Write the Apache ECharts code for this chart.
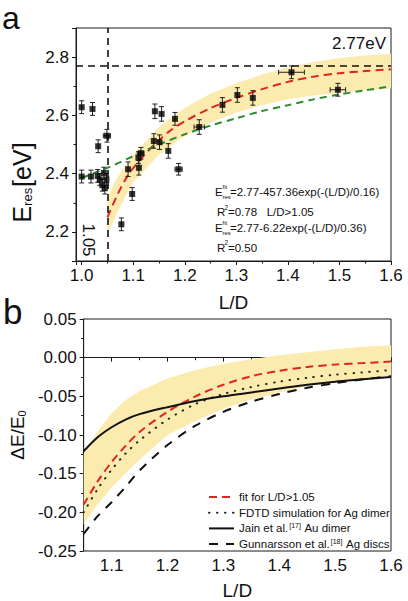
<!DOCTYPE html>
<html>
<head>
<meta charset="utf-8">
<script src="https://cdn.jsdelivr.net/npm/echarts@6/dist/echarts.min.js"></script>
<style>
html,body{margin:0;padding:0;background:#fff;}
#chart{width:408px;height:601px;}
</style>
</head>
<body>
<div id="chart"></div>
<script>
// ---------- Panel a : measured points [L/D, E_res, errY, errX] ----------
const pointsLD   = [1.000,1.000,1.021,1.018,1.032,1.031,1.035,1.040,1.043,1.045,1.048,1.049,1.077,1.090,1.098,1.110,1.115,1.111,1.142,1.155,1.140,1.151,1.168,1.181,1.188,1.228,1.273,1.302,1.332,1.407,1.497];
const pointsE    = [2.390,2.628,2.622,2.390,2.494,2.392,2.380,2.360,2.402,2.350,2.380,2.530,2.226,2.415,2.330,2.455,2.470,2.420,2.614,2.605,2.512,2.508,2.478,2.588,2.415,2.560,2.636,2.670,2.660,2.748,2.688];
const pointsErrY = [0.022,0.022,0.022,0.022,0.022,0.022,0.020,0.020,0.020,0.020,0.020,0.022,0.022,0.025,0.022,0.020,0.020,0.025,0.025,0.025,0.025,0.025,0.025,0.022,0.020,0.025,0.025,0.025,0.025,0.022,0.022];
const pointsErrX = [0,0,0,0,0,0,0,0,0,0,0,0.007,0,0,0,0,0.006,0,0,0,0,0,0,0,0.007,0.010,0,0,0,0.025,0.015];

// fit curves panel a
const fitRedA   = [[1.05,2.25],[1.07,2.33],[1.09,2.395],[1.11,2.44],[1.13,2.48],[1.15,2.515],[1.17,2.545],[1.2,2.58],[1.25,2.625],[1.3,2.66],[1.35,2.69],[1.4,2.715],[1.45,2.733],[1.5,2.745],[1.55,2.752],[1.6,2.758]];
const fitGreenA = [[1.0,2.385],[1.05,2.42],[1.1,2.46],[1.15,2.50],[1.2,2.535],[1.25,2.565],[1.3,2.59],[1.35,2.615],[1.4,2.635],[1.45,2.655],[1.5,2.672],[1.55,2.686],[1.6,2.70]];
const bandUpperA = [[1.05,2.32],[1.07,2.39],[1.1,2.465],[1.15,2.56],[1.2,2.625],[1.25,2.675],[1.3,2.71],[1.35,2.74],[1.4,2.765],[1.45,2.783],[1.5,2.797],[1.55,2.806],[1.6,2.812]];
const bandLowerA = [[1.05,2.19],[1.07,2.27],[1.1,2.37],[1.15,2.465],[1.2,2.53],[1.25,2.575],[1.3,2.61],[1.35,2.635],[1.4,2.655],[1.45,2.668],[1.5,2.678],[1.55,2.686],[1.6,2.692]];
const refEnergy = 2.77;
const refLD = 1.05;

// ---------- Panel b ----------
const fitRedB   = [[1.05,-0.19],[1.075,-0.16],[1.1,-0.135],[1.125,-0.114],[1.15,-0.096],[1.2,-0.07],[1.25,-0.05],[1.3,-0.035],[1.35,-0.024],[1.4,-0.017],[1.45,-0.012],[1.5,-0.009],[1.55,-0.007],[1.6,-0.005]];
const fdtdB     = [[1.05,-0.2],[1.075,-0.17],[1.1,-0.145],[1.125,-0.124],[1.15,-0.107],[1.2,-0.08],[1.25,-0.06],[1.3,-0.047],[1.35,-0.038],[1.4,-0.031],[1.45,-0.026],[1.5,-0.022],[1.55,-0.019],[1.6,-0.016]];
const jainB     = [[1.05,-0.121],[1.075,-0.103],[1.1,-0.09],[1.125,-0.08],[1.15,-0.073],[1.2,-0.064],[1.25,-0.056],[1.3,-0.05],[1.35,-0.045],[1.4,-0.04],[1.45,-0.035],[1.5,-0.031],[1.55,-0.028],[1.6,-0.025]];
const gunnB     = [[1.05,-0.228],[1.075,-0.205],[1.1,-0.187],[1.125,-0.167],[1.15,-0.146],[1.2,-0.113],[1.25,-0.088],[1.3,-0.07],[1.35,-0.057],[1.4,-0.047],[1.45,-0.039],[1.5,-0.033],[1.55,-0.028],[1.6,-0.024]];
const bandUpperB = [[1.05,-0.125],[1.075,-0.095],[1.1,-0.072],[1.125,-0.055],[1.15,-0.043],[1.2,-0.027],[1.25,-0.016],[1.3,-0.008],[1.35,-0.002],[1.4,0.003],[1.45,0.007],[1.5,0.011],[1.55,0.014],[1.6,0.016]];
const bandLowerB = [[1.05,-0.215],[1.075,-0.19],[1.1,-0.168],[1.125,-0.149],[1.15,-0.132],[1.2,-0.1],[1.25,-0.082],[1.3,-0.066],[1.35,-0.054],[1.4,-0.045],[1.45,-0.037],[1.5,-0.032],[1.55,-0.028],[1.6,-0.025]];
const legendNames = ['fit for L/D>1.05','FDTD simulation for Ag dimer','Jain et al.[17] Au dimer','Gunnarsson et al.[18] Ag discs'];

const FONT = '"Liberation Sans", Arial, sans-serif';
const AX = '#1a1a1a';
const BAND = '#fcebae';

const chart = echarts.init(document.getElementById('chart'), null, {renderer:'svg'});

function bandSeries(idx, upper, lower){
  return {
    type:'custom', xAxisIndex:idx, yAxisIndex:idx, silent:true, z:1,
    data:[upper[0]],
    renderItem(params, api){
      const pts = upper.map(p=>api.coord(p)).concat(lower.slice().reverse().map(p=>api.coord(p)));
      return {type:'polygon', shape:{points:pts}, style:{fill:BAND}};
    }
  };
}

function xAxisCfg(gi, min, max, name, gap){
  return {
    type:'value', gridIndex:gi, min:min, max:max, splitNumber:6, minInterval:0.1, maxInterval:0.1,
    name:name, nameLocation:'middle', nameGap:gap,
    nameTextStyle:{fontFamily:FONT, fontSize:19, color:'#111'},
    axisLine:{lineStyle:{color:AX, width:1}},
    axisTick:{length:4, lineStyle:{color:AX}},
    minorTick:{show:true, splitNumber:2, length:2.5, lineStyle:{color:AX}},
    splitLine:{show:false},
    axisLabel:{showMinLabel:false, fontFamily:FONT, fontSize:17, color:'#111', margin:6,
      formatter:v=>v.toFixed(1)}
  };
}

const errData = pointsLD.map((x,i)=>[x, pointsE[i], pointsErrX[i], pointsErrY[i]]);
const scatterData = pointsLD.map((x,i)=>[x, pointsE[i]]);

const option = {
  animation:false,
  backgroundColor:'#fff',
  grid:[
    {left:76, right:17, top:28, height:233, show:true, borderColor:AX, borderWidth:1, backgroundColor:'transparent'},
    {left:76, right:17, top:319, height:232, show:true, borderColor:AX, borderWidth:1, backgroundColor:'transparent'}
  ],
  xAxis:[
    xAxisCfg(0, 0.989, 1.6, 'L/D', 32),
    xAxisCfg(1, 1.05, 1.6, 'L/D', 30)
  ],
  yAxis:[
    {
      type:'value', gridIndex:0, min:2.1, max:2.9, splitNumber:4, minInterval:0.2, maxInterval:0.2,
      name:'{e|E}{s|res}{e|[eV]}', nameLocation:'middle', nameRotate:90, nameGap:27,
      nameTextStyle:{fontFamily:FONT, color:'#111', padding:[0,76,0,0],
        rich:{e:{fontFamily:FONT, fontSize:25, color:'#111'}, s:{fontFamily:FONT, fontSize:13, color:'#111', verticalAlign:'bottom', padding:[0,1,0,0]}}},
      axisLine:{lineStyle:{color:AX}},
      axisTick:{length:4, lineStyle:{color:AX}},
      minorTick:{show:true, splitNumber:2, length:2.5, lineStyle:{color:AX}},
      splitLine:{show:false},
      axisLabel:{showMinLabel:false, showMaxLabel:false, fontFamily:FONT, fontSize:17, color:'#111', margin:7, formatter:v=>v.toFixed(1)}
    },
    {
      type:'value', gridIndex:1, min:-0.25, max:0.05, interval:0.05,
      name:'{e|ΔE/E}{s|0}', nameLocation:'middle', nameRotate:90, nameGap:50,
      nameTextStyle:{fontFamily:FONT, color:'#111',
        rich:{e:{fontFamily:FONT, fontSize:19, color:'#111'}, s:{fontFamily:FONT, fontSize:11, color:'#111', verticalAlign:'bottom'}}},
      axisLine:{lineStyle:{color:AX}},
      axisTick:{length:4, lineStyle:{color:AX}},
      minorTick:{show:true, splitNumber:2, length:2.5, lineStyle:{color:AX}},
      splitLine:{show:false},
      axisLabel:{fontFamily:FONT, fontSize:17, color:'#111', margin:7, formatter:v=>v.toFixed(2)}
    }
  ],
  legend:{
    data:legendNames, orient:'vertical', left:203, top:486, itemWidth:25, itemHeight:12, itemGap:3.7,
    itemStyle:{opacity:0},
    textStyle:{fontFamily:FONT, fontSize:11.5, color:'#111',
      rich:{sup:{fontFamily:FONT, fontSize:7, color:'#111', verticalAlign:'top', padding:[0,1,5,1]}}},
    formatter:n=>n.replace(/(\[\d+\])/, '{sup|$1}'),
    selectedMode:false
  },
  series:[
    bandSeries(0, bandUpperA, bandLowerA),
    {type:'line', name:'fitA_red', xAxisIndex:0, yAxisIndex:0, data:fitRedA, smooth:0.3, symbol:'none', z:3,
      lineStyle:{color:'#e02424', width:2, type:[8,5]}},
    {type:'line', name:'fitA_green', xAxisIndex:0, yAxisIndex:0, data:fitGreenA, smooth:0.3, symbol:'none', z:3,
      lineStyle:{color:'#2e8b2e', width:2, type:[7,5]}},
    {type:'line', name:'refs', xAxisIndex:0, yAxisIndex:0, data:[], symbol:'none', z:2,
      markLine:{silent:true, symbol:'none', label:{show:false},
        lineStyle:{color:'#111', width:1.6, type:[7,5]},
        data:[{yAxis:refEnergy},{xAxis:refLD}]}},
    {type:'custom', name:'errorbars', xAxisIndex:0, yAxisIndex:0, data:errData, z:4, silent:true,
      renderItem(params, api){
        const x=api.value(0), y=api.value(1), ex=api.value(2), ey=api.value(3);
        const st={stroke:'#222', lineWidth:1};
        const ch=[]; const cap=2.5;
        if(ey>0){
          const t=api.coord([x,y+ey]), b=api.coord([x,y-ey]);
          ch.push({type:'line', shape:{x1:t[0],y1:t[1],x2:b[0],y2:b[1]}, style:st});
          ch.push({type:'line', shape:{x1:t[0]-cap,y1:t[1],x2:t[0]+cap,y2:t[1]}, style:st});
          ch.push({type:'line', shape:{x1:b[0]-cap,y1:b[1],x2:b[0]+cap,y2:b[1]}, style:st});
        }
        if(ex>0){
          const l=api.coord([x-ex,y]), r=api.coord([x+ex,y]);
          ch.push({type:'line', shape:{x1:l[0],y1:l[1],x2:r[0],y2:r[1]}, style:st});
          ch.push({type:'line', shape:{x1:l[0],y1:l[1]-cap,x2:l[0],y2:l[1]+cap}, style:st});
          ch.push({type:'line', shape:{x1:r[0],y1:r[1]-cap,x2:r[0],y2:r[1]+cap}, style:st});
        }
        return {type:'group', children:ch};
      }},
    {type:'scatter', name:'data', xAxisIndex:0, yAxisIndex:0, data:scatterData, symbol:'rect', symbolSize:6, z:5,
      itemStyle:{color:'#000'}},
    bandSeries(1, bandUpperB, bandLowerB),
    {type:'line', name:legendNames[0], xAxisIndex:1, yAxisIndex:1, data:fitRedB, smooth:0.3, symbol:'none', z:3,
      itemStyle:{color:'#e02424'}, lineStyle:{color:'#e02424', width:2, type:[8,5]}},
    {type:'line', name:legendNames[1], xAxisIndex:1, yAxisIndex:1, data:fdtdB, smooth:0.3, symbol:'none', z:3,
      itemStyle:{color:'#222'}, lineStyle:{color:'#222', width:2, type:[0.5,7.5], cap:'round'}},
    {type:'line', name:legendNames[2], xAxisIndex:1, yAxisIndex:1, data:jainB, smooth:0.3, symbol:'none', z:3,
      itemStyle:{color:'#111'}, lineStyle:{color:'#111', width:2}},
    {type:'line', name:legendNames[3], xAxisIndex:1, yAxisIndex:1, data:gunnB, smooth:0.3, symbol:'none', z:3,
      itemStyle:{color:'#111'}, lineStyle:{color:'#111', width:2, type:[9,8]}}
  ],
  graphic:[
    {type:'text', left:2, top:2, style:{text:'a', font:'32px '+FONT, fill:'#111'}},
    {type:'text', left:3, top:294, style:{text:'b', font:'35px '+FONT, fill:'#111'}},
    {type:'text', x:386, y:43, style:{text:'2.77eV', font:'17px '+FONT, fill:'#111', align:'right', verticalAlign:'middle'}},
    {type:'text', x:88, y:240, rotation:-Math.PI/2, style:{text:'1.05', font:'17px '+FONT, fill:'#111', align:'center', verticalAlign:'middle'}},
    // fit annotations
    {type:'text', x:215, y:192, style:{text:'E', font:'11.5px '+FONT, fill:'#111', verticalAlign:'middle'}},
    {type:'text', x:222.5, y:196.5, style:{text:'res', font:'6px '+FONT, fill:'#111', verticalAlign:'middle'}},
    {type:'text', x:222.5, y:187, style:{text:'fit', font:'6px '+FONT, fill:'#111', verticalAlign:'middle'}},
    {type:'text', x:230, y:192, style:{text:'=2.77-457.36exp(-(L/D)/0.16)', font:'11.5px '+FONT, fill:'#111', verticalAlign:'middle'}},
    {type:'text', x:217, y:212, style:{text:'R', font:'11.5px '+FONT, fill:'#111', verticalAlign:'middle'}},
    {type:'text', x:224.5, y:207, style:{text:'2', font:'6.5px '+FONT, fill:'#111', verticalAlign:'middle'}},
    {type:'text', x:228, y:212, style:{text:'=0.78   L/D>1.05', font:'11.5px '+FONT, fill:'#111', verticalAlign:'middle'}},
    {type:'text', x:215, y:228, style:{text:'E', font:'11.5px '+FONT, fill:'#111', verticalAlign:'middle'}},
    {type:'text', x:222.5, y:232.5, style:{text:'res', font:'6px '+FONT, fill:'#111', verticalAlign:'middle'}},
    {type:'text', x:222.5, y:223, style:{text:'fit', font:'6px '+FONT, fill:'#111', verticalAlign:'middle'}},
    {type:'text', x:230, y:228, style:{text:'=2.77-6.22exp(-(L/D)/0.36)', font:'11.5px '+FONT, fill:'#111', verticalAlign:'middle'}},
    {type:'text', x:217, y:247.5, style:{text:'R', font:'11.5px '+FONT, fill:'#111', verticalAlign:'middle'}},
    {type:'text', x:224.5, y:242.5, style:{text:'2', font:'6.5px '+FONT, fill:'#111', verticalAlign:'middle'}},
    {type:'text', x:228, y:247.5, style:{text:'=0.50', font:'11.5px '+FONT, fill:'#111', verticalAlign:'middle'}}
  ]
};
chart.setOption(option);
</script>
</body>
</html>
